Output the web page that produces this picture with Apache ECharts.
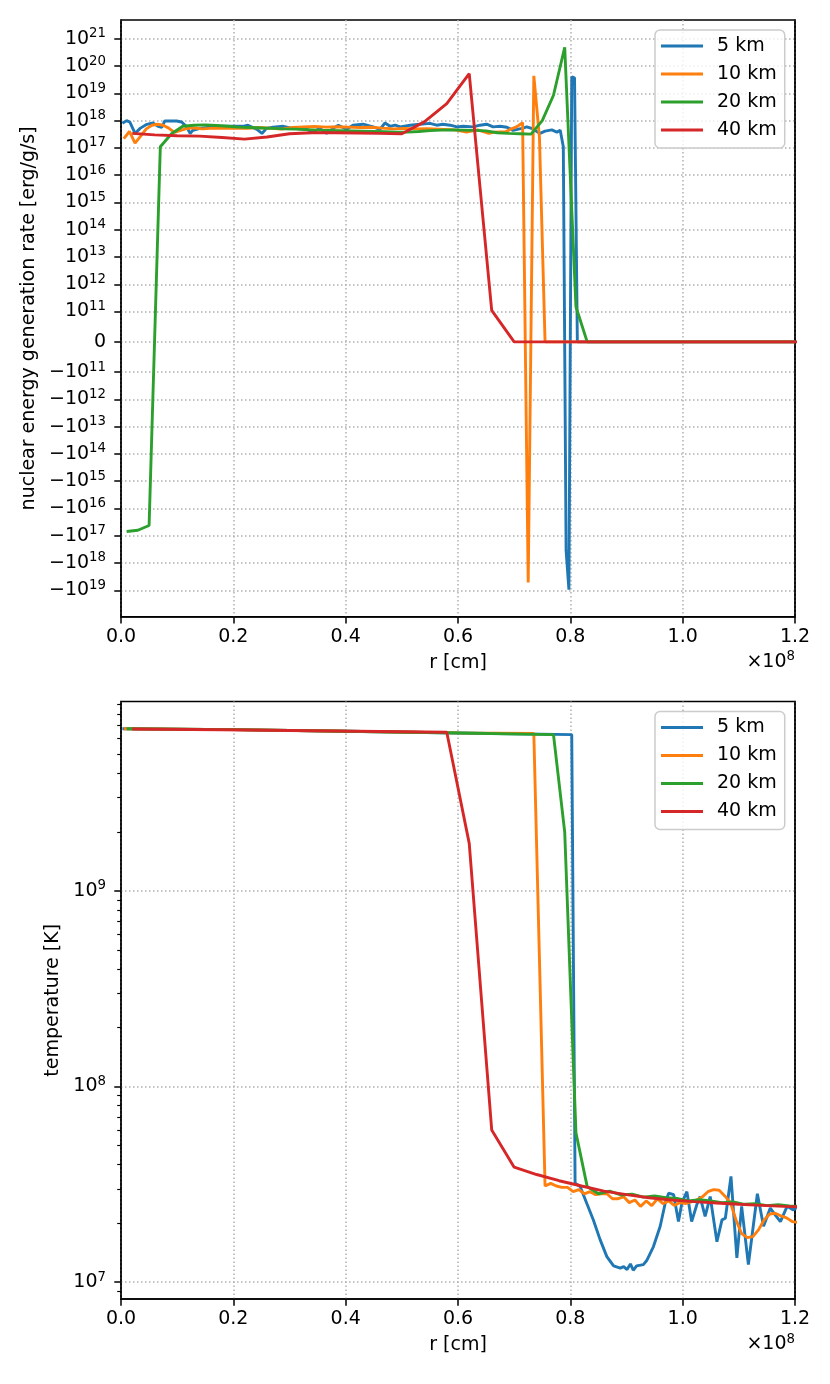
<!DOCTYPE html>
<html><head><meta charset="utf-8">
<script src="https://cdn.jsdelivr.net/npm/echarts@6/dist/echarts.min.js"></script>
<style>html,body{margin:0;padding:0;background:#fff}#c{width:830px;height:1384px}</style>
</head><body><div id="c"></div>
<script>
// ---------- names, colours, ticks ----------
const seriesNames = ['5 km', '10 km', '20 km', '40 km'];
const seriesColors = ['#1f77b4', '#ff7f0e', '#2ca02c', '#d62728'];
const xTickValues = [0, 0.2, 0.4, 0.6, 0.8, 1.0, 1.2];          // r in units of 1e8 cm
const epsTickValues = [-1e19, -1e18, -1e17, -1e16, -1e15, -1e14, -1e13, -1e12, -1e11, 0,
  1e11, 1e12, 1e13, 1e14, 1e15, 1e16, 1e17, 1e18, 1e19, 1e20, 1e21];
const epsRange = [-9.3e19, 4.9e21];
const tempTickValues = [1e7, 1e8, 1e9];
const tempMinorTicks = [9e6, 2e7, 3e7, 4e7, 5e7, 6e7, 7e7, 8e7, 9e7, 2e8, 3e8, 4e8, 5e8, 6e8, 7e8, 8e8, 9e8,
  2e9, 3e9, 4e9, 5e9, 6e9, 7e9, 8e9, 9e9];
const tempRange = [8.2e6, 9.3e9];

// ---------- top panel: nuclear energy generation rate [erg/g/s] ----------
const r5Eps = [0.0025,0.01,0.016,0.025,0.034,0.046,0.057,0.066,0.0725,0.078,0.099,0.108,0.117,0.123,0.128,0.141,0.158,0.176,0.199,0.217,0.226,0.242,0.251,0.259,0.271,0.289,0.306,0.331,0.342,0.354,0.366,0.378,0.387,0.402,0.413,0.431,0.449,0.461,0.470,0.479,0.488,0.497,0.515,0.532,0.550,0.562,0.573,0.586,0.598,0.609,0.627,0.639,0.651,0.6625,0.675,0.687,0.698,0.7136,0.7225,0.731,0.746,0.755,0.767,0.776,0.782,0.7875,0.7925,0.7975,0.8025,0.8075,0.8125,1.2];
const eps5 = [8e17,1.0e18,8.7e17,3.4e17,5.2e17,7.3e17,8.2e17,6.2e17,5.7e17,9.7e17,9.7e17,8.9e17,5.9e17,3.4e17,4.4e17,5.2e17,5.7e17,6.2e17,6.2e17,6.2e17,6.8e17,4.8e17,3.4e17,5.2e17,5.7e17,6.2e17,5.2e17,4.8e17,3.8e17,5.2e17,3.4e17,5.2e17,6.8e17,4.8e17,6.8e17,7.4e17,5.9e17,4.8e17,8.2e17,6.2e17,6.8e17,5.9e17,6.8e17,7.4e17,7.9e17,6.8e17,7.4e17,6.8e17,5.9e17,6.2e17,5.9e17,6.8e17,7.4e17,5.9e17,6.2e17,5.7e17,4.4e17,5.2e17,5.9e17,5.2e17,3.4e17,4.1e17,4.6e17,3.8e17,4.4e17,1.1e17,-3.6e17,-9.5e18,4.0e19,3.7e19,0,0];

const r10Eps = [0.005,0.015,0.025,0.035,0.045,0.055,0.065,0.075,0.085,0.095,0.105,0.115,0.125,0.145,0.165,0.185,0.205,0.225,0.245,0.265,0.285,0.305,0.325,0.345,0.365,0.385,0.405,0.425,0.445,0.465,0.485,0.505,0.525,0.545,0.565,0.585,0.595,0.615,0.635,0.655,0.665,0.685,0.695,0.705,0.715,0.725,0.735,0.745,0.755,1.2];
const eps10 = [2.2e17,4.0e17,1.5e17,2.7e17,5.0e17,6.8e17,7.4e17,6.8e17,5.3e17,3.7e17,4.3e17,5.0e17,5.5e17,5.0e17,5.3e17,5.2e17,5.4e17,5.2e17,5.6e17,5.3e17,4.9e17,5.6e17,5.9e17,6.1e17,5.8e17,6.0e17,5.8e17,5.6e17,5.7e17,5.3e17,5.0e17,5.2e17,5.0e17,5.1e17,4.9e17,4.7e17,4.6e17,3.8e17,4.6e17,3.4e17,3.8e17,3.9e17,5.0e17,6.0e17,8.5e17,-5.2e18,4.4e19,2.5e17,0,0];

const r20Eps = [0.01,0.03,0.05,0.07,0.09,0.11,0.13,0.15,0.17,0.19,0.21,0.23,0.25,0.27,0.29,0.31,0.33,0.35,0.37,0.39,0.41,0.43,0.45,0.47,0.49,0.51,0.53,0.55,0.57,0.59,0.61,0.63,0.65,0.67,0.69,0.71,0.73,0.75,0.77,0.79,0.81,0.83,1.2];
const eps20 = [-7e16,-6.3e16,-4.2e16,1.1e17,3.3e17,6.2e17,6.8e17,7.0e17,6.6e17,6.2e17,5.8e17,5.6e17,5.4e17,5.2e17,5.0e17,4.9e17,4.7e17,4.5e17,4.4e17,4.3e17,4.2e17,4.1e17,4.0e17,3.9e17,3.8e17,3.8e17,4.0e17,4.3e17,4.5e17,4.6e17,4.5e17,4.4e17,4.2e17,3.6e17,3.4e17,3.3e17,3.2e17,1.0e18,8.5e18,4.9e20,1.5e11,0,0];

const r40Eps = [0.02,0.06,0.10,0.14,0.18,0.22,0.26,0.30,0.34,0.38,0.42,0.46,0.50,0.54,0.58,0.62,0.66,0.70,1.22];
const eps40 = [3.4e17,3.0e17,2.8e17,2.7e17,2.4e17,2.1e17,2.5e17,3.3e17,3.6e17,3.6e17,3.5e17,3.4e17,3.3e17,9e17,4.2e18,5.3e19,1.1e11,0,0];

// ---------- bottom panel: temperature [K] ----------
const r5T = [0.0025,0.2,0.4,0.6,0.8025,0.8085,0.8175,0.829,0.841,0.853,0.865,0.877,0.889,0.895,0.901,0.907,0.912,0.918,0.930,0.936,0.948,0.960,0.969,0.975,0.984,0.9925,0.9986,1.0075,1.016,1.025,1.031,1.040,1.049,1.061,1.070,1.076,1.086,1.0965,1.105,1.117,1.133,1.144,1.156,1.165,1.174,1.186,1.197,1.2025];
const temp5 = [6.75e9,6.68e9,6.55e9,6.42e9,6.3e9,3.2e7,3.08e7,2.54e7,2.08e7,1.65e7,1.35e7,1.21e7,1.18e7,1.2e7,1.16e7,1.24e7,1.15e7,1.21e7,1.23e7,1.29e7,1.52e7,1.93e7,2.54e7,2.85e7,2.8e7,2.04e7,2.54e7,2.9e7,2.04e7,2.48e7,2.74e7,2.17e7,2.74e7,1.61e7,2.08e7,2.12e7,3.47e7,1.33e7,2.44e7,1.23e7,2.83e7,1.93e7,2.39e7,2.2e7,2.04e7,2.44e7,2.34e7,2.4e7];

const r10T = [0.005,0.2,0.4,0.6,0.735,0.745,0.755,0.765,0.775,0.785,0.795,0.805,0.815,0.825,0.835,0.845,0.855,0.865,0.875,0.885,0.895,0.905,0.915,0.925,0.935,0.945,0.955,0.965,0.975,0.985,0.995,1.005,1.015,1.025,1.035,1.045,1.055,1.065,1.075,1.085,1.095,1.105,1.115,1.125,1.135,1.145,1.155,1.165,1.175,1.185,1.195,1.205];
const temp10 = [6.75e9,6.68e9,6.55e9,6.43e9,6.38e9,4.5e8,3.1e7,3.2e7,3.1e7,3.05e7,3.05e7,2.9e7,2.97e7,2.83e7,2.9e7,2.8e7,2.83e7,2.83e7,2.67e7,2.67e7,2.73e7,2.55e7,2.63e7,2.44e7,2.6e7,2.46e7,2.67e7,2.52e7,2.6e7,2.47e7,2.55e7,2.52e7,2.57e7,2.63e7,2.73e7,2.9e7,2.97e7,2.95e7,2.76e7,2.55e7,2.08e7,1.77e7,1.69e7,1.71e7,1.85e7,2.08e7,2.23e7,2.25e7,2.18e7,2.13e7,2.04e7,2.02e7];

const r20T = [0.01,0.2,0.4,0.6,0.77,0.79,0.81,0.83,0.85,0.87,0.89,0.91,0.93,0.95,0.97,0.99,1.01,1.03,1.05,1.07,1.09,1.11,1.13,1.15,1.17,1.19,1.21];
const temp20 = [6.75e9,6.68e9,6.55e9,6.42e9,6.3e9,2.0e9,5.8e7,3.08e7,2.83e7,2.92e7,2.79e7,2.82e7,2.72e7,2.76e7,2.7e7,2.68e7,2.6e7,2.64e7,2.6e7,2.55e7,2.57e7,2.5e7,2.52e7,2.46e7,2.49e7,2.45e7,2.44e7];

const r40T = [0.02,0.18,0.38,0.58,0.62,0.66,0.70,0.74,0.78,0.82,0.86,0.90,0.94,0.98,1.02,1.06,1.10,1.14,1.18,1.22];
const temp40 = [6.73e9,6.67e9,6.57e9,6.47e9,1.75e9,6.0e7,3.87e7,3.55e7,3.3e7,3.1e7,2.92e7,2.8e7,2.7e7,2.63e7,2.58e7,2.54e7,2.5e7,2.47e7,2.44e7,2.42e7];

// ---------- symmetric-log scale (linthresh 1e11, linscale 1), 9 units per decade ----------
const LINTHRESH = 1e11;
function symlog(v) {
  const a = Math.abs(v);
  if (a <= LINTHRESH) return 10 * v / LINTHRESH;
  return Math.sign(v) * (10 + 9 * Math.log10(a / LINTHRESH));
}
function symlogLabel(u) {
  if (Math.abs(u) < 1e-9) return '{b|0}';
  const e = Math.round(11 + (Math.abs(u) - 10) / 9);
  return (u < 0 ? '{b|\u221210}' : '{b|10}') + '{s|' + e + '}';
}

const FONT = 'DejaVu Sans';
const supRich = {
  b: { fontSize: 19, fontFamily: FONT, color: '#000', lineHeight: 19 },
  s: { fontSize: 13.3, fontFamily: FONT, color: '#000', lineHeight: 13.3, padding: [0, 0, 10, 0] }
};
const gridLine = { show: true, lineStyle: { color: '#b0b0b0', width: 1.5, type: [1.5, 2.5] } };

function zip(xs, ys, f) { return xs.map((x, i) => [x, f ? f(ys[i]) : ys[i]]); }

const topSets = [[r5Eps, eps5], [r10Eps, eps10], [r20Eps, eps20], [r40Eps, eps40]];
const botSets = [[r5T, temp5], [r10T, temp10], [r20T, temp20], [r40T, temp40]];

const series = [];
topSets.forEach((s, i) => series.push({
  name: seriesNames[i], type: 'line', xAxisIndex: 0, yAxisIndex: 0,
  data: zip(s[0], s[1], symlog), showSymbol: false, symbol: 'none',
  lineStyle: { width: 2.9, color: seriesColors[i] }, itemStyle: { color: seriesColors[i] }, z: 3 + i
}));
botSets.forEach((s, i) => series.push({
  name: seriesNames[i], type: 'line', xAxisIndex: 1, yAxisIndex: 1,
  data: zip(s[0], s[1]), showSymbol: false, symbol: 'none',
  lineStyle: { width: 2.9, color: seriesColors[i] }, itemStyle: { color: seriesColors[i] }, z: 3 + i
}));

function xAxisFor(gi) {
  return {
    type: 'value', gridIndex: gi, min: 0, max: 1.2, interval: 0.2,
    name: 'r [cm]', nameLocation: 'middle', nameGap: 37,
    nameTextStyle: { fontSize: 19, fontFamily: FONT, color: '#000' },
    axisLine: { show: true, onZero: false, lineStyle: { color: '#000', width: 1.5 } },
    axisTick: { show: true, length: 6.7, lineStyle: { color: '#000', width: 1.5 } },
    axisLabel: { fontSize: 19, fontFamily: FONT, color: '#000', margin: 11, formatter: v => v.toFixed(1) },
    splitLine: gridLine
  };
}
function frameAxis(gi, type, range) {
  // right-hand spine only (no ticks, no labels)
  return {
    type: type, gridIndex: gi, min: range[0], max: range[1], position: 'right',
    axisLine: { show: true, onZero: false, lineStyle: { color: '#000', width: 1.5 } },
    axisTick: { show: false }, axisLabel: { show: false }, splitLine: { show: false }
  };
}
function legendFor(top) {
  return {
    orient: 'vertical', left: 655, top: top, data: seriesNames, selectedMode: false,
    icon: 'rect', itemWidth: 42, itemHeight: 3, itemGap: 8, padding: [6, 8, 8, 6],
    backgroundColor: 'rgba(255,255,255,0.8)', borderColor: '#cccccc', borderWidth: 1.5, borderRadius: 5,
    textStyle: { fontSize: 19, fontFamily: FONT, color: '#000', padding: [0, 0, 0, 9], lineHeight: 20 }
  };
}

const option = {
  animation: false,
  backgroundColor: '#fff',
  textStyle: { fontFamily: FONT },
  grid: [
    { left: 121, right: 35, top: 20, height: 596.7, show: true, borderColor: '#000', borderWidth: 1.5, backgroundColor: 'transparent' },
    { left: 121, right: 35, top: 701.5, height: 597.5, show: true, borderColor: '#000', borderWidth: 1.5, backgroundColor: 'transparent' }
  ],
  title: [
    { text: '{b|\u00d710}{s|8}', right: 35, top: 652.5, padding: 0, textStyle: { rich: supRich, fontWeight: 'normal' } },
    { text: '{b|\u00d710}{s|8}', right: 35, top: 1334.8, padding: 0, textStyle: { rich: supRich, fontWeight: 'normal' } }
  ],
  legend: [legendFor(30), legendFor(711.5)],
  xAxis: [xAxisFor(0), xAxisFor(1)],
  yAxis: [
    {
      type: 'value', gridIndex: 0, min: symlog(epsRange[0]), max: symlog(epsRange[1]),
      name: 'nuclear energy generation rate [erg/g/s]', nameLocation: 'middle', nameGap: 77, nameRotate: 90,
      nameTextStyle: { fontSize: 19, fontFamily: FONT, color: '#000' },
      axisLine: { show: true, onZero: false, lineStyle: { color: '#000', width: 1.5 } },
      axisTick: { show: true, length: 6.7, lineStyle: { color: '#000', width: 1.5 }, customValues: epsTickValues.map(symlog) },
      axisLabel: { margin: 15, customValues: epsTickValues.map(symlog), formatter: symlogLabel, rich: supRich },
      splitLine: gridLine
    },
    {
      type: 'log', logBase: 10, gridIndex: 1, min: tempRange[0], max: tempRange[1],
      name: 'temperature [K]', nameLocation: 'middle', nameGap: 56, nameRotate: 90,
      nameTextStyle: { fontSize: 19, fontFamily: FONT, color: '#000' },
      axisLine: { show: true, onZero: false, lineStyle: { color: '#000', width: 1.5 } },
      axisTick: { show: true, length: 6.7, lineStyle: { color: '#000', width: 1.5 }, customValues: tempTickValues },
      axisLabel: { margin: 15, customValues: tempTickValues, rich: supRich,
        formatter: v => '{b|10}{s|' + Math.round(Math.log10(v)) + '}' },
      splitLine: gridLine
    },
    {
      type: 'log', logBase: 10, gridIndex: 1, min: tempRange[0], max: tempRange[1], position: 'left',
      axisLine: { show: false, onZero: false },
      axisTick: { show: true, length: 3.8, lineStyle: { color: '#000', width: 1.15 }, customValues: tempMinorTicks },
      axisLabel: { show: false }, splitLine: { show: false }
    },
    frameAxis(0, 'value', [symlog(epsRange[0]), symlog(epsRange[1])]),
    frameAxis(1, 'log', tempRange)
  ],
  series: series
};

const chart = echarts.init(document.getElementById('c'), null, { renderer: 'canvas' });
chart.setOption(option);
</script>
</body></html>
